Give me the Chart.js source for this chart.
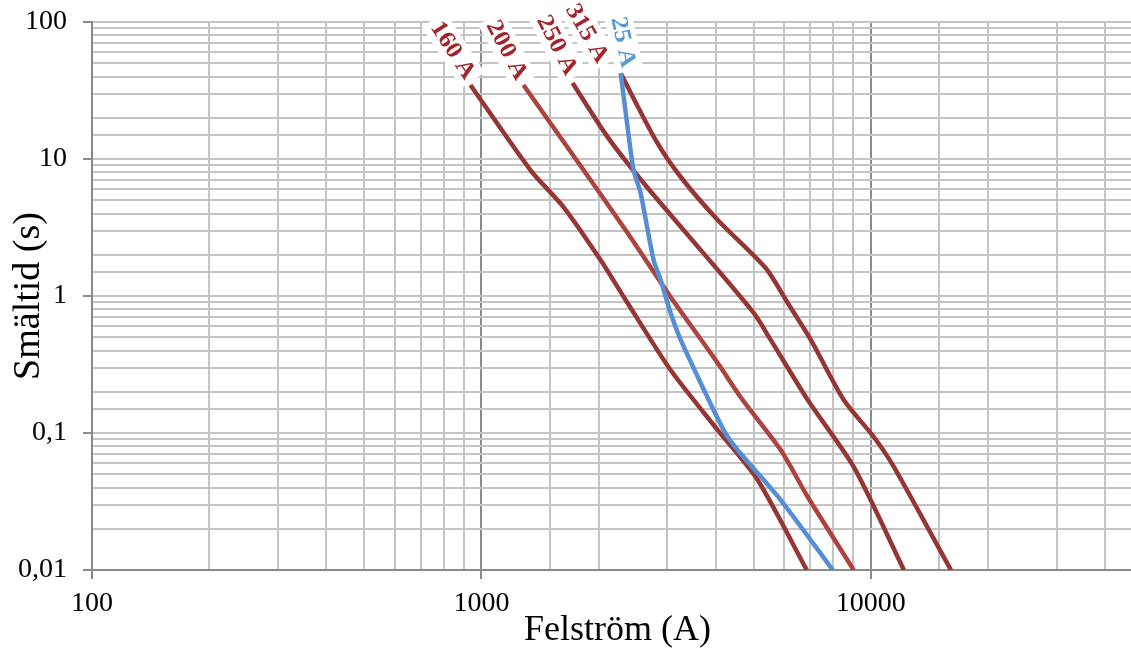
<!DOCTYPE html>
<html>
<head>
<meta charset="utf-8">
<script src="https://cdn.jsdelivr.net/npm/chart.js@4/dist/chart.umd.min.js"></script>
<style>
  html, body { margin: 0; padding: 0; background: #fff; overflow: hidden; }
</style>
</head>
<body>
<canvas id="chart" width="1143" height="650"></canvas>
<script>
// fuse melting curves
const seriesNames = ['160 A', '200 A', '250 A', '315 A', '25 A'];

const current160 = [937, 1336, 1625, 2023, 2373, 3061, 4044, 5123, 6847];
const time160 = [34.7, 8.31, 4.46, 1.83, 0.889, 0.288, 0.105, 0.0454, 0.01];

const current200 = [1282, 1829, 2345, 3061, 4044, 4688, 5870, 6889, 9040];
const time200 = [34.7, 8.31, 3.03, 0.984, 0.324, 0.174, 0.0751, 0.0341, 0.01];

const current250 = [1714, 2108, 2609, 3656, 5003, 5533, 6889, 9040, 12160];
const time250 = [35.9, 14.5, 6.68, 2.17, 0.752, 0.478, 0.174, 0.0565, 0.01];

const current315 = [2277, 2800, 3250, 4044, 5370, 6118, 7014, 8525, 10180, 11460, 16060];
const time315 = [42.4, 13.8, 7.39, 3.59, 1.6, 0.889, 0.478, 0.174, 0.0935, 0.0565, 0.01];

const current25 = [2277, 2373, 2459, 2563, 2768, 2885, 3061, 3250, 3656, 4189, 4550, 5870, 7985];
const time25 = [43.2, 17.1, 8.31, 5.65, 1.83, 1.31, 0.752, 0.478, 0.232, 0.105, 0.0751, 0.0324, 0.01];

const xTickLabels = ['100', '1000', '10000'];
const yTickLabels = ['0,01', '0,1', '1', '10', '100'];

const toPoints = (xs, ys) => xs.map((x, i) => ({ x: x, y: ys[i] }));

const lineColors = ['#943634', '#AD433F', '#943634', '#943634', '#558ED5'];
const labelColors = ['#A3242B', '#A3242B', '#A3242B', '#A3242B', '#5B9BD5'];
// label placement relative to first point of each curve
const labelPlacement = [
  { dx: -17, dy: -35, angle: 57 },
  { dx: -16, dy: -35, angle: 62 },
  { dx: -15, dy: -38, angle: 63 },
  { dx: -33, dy: -40, angle: 60 },
  { dx: 3, dy: -30, angle: 78 }
];

const isDecade = v => Math.abs(Math.log10(v) - Math.round(Math.log10(v))) < 1e-6;

const curveLabels = {
  id: 'curveLabels',
  afterDatasetsDraw(chart) {
    const ctx = chart.ctx;
    chart.data.datasets.forEach((ds, i) => {
      const pt = chart.getDatasetMeta(i).data[0];
      const p = labelPlacement[i];
      ctx.save();
      ctx.translate(pt.x + p.dx, pt.y + p.dy);
      ctx.rotate(p.angle * Math.PI / 180);
      ctx.scale(1.08, 1);
      ctx.font = 'bold 24px "Liberation Serif"';
      const w = ctx.measureText(ds.label).width;
      ctx.fillStyle = '#ffffff';
      ctx.fillRect(-w / 2 - 4, -14, w + 8, 28);
      ctx.fillStyle = labelColors[i];
      ctx.textAlign = 'center';
      ctx.textBaseline = 'middle';
      ctx.fillText(ds.label, 0, 1);
      ctx.restore();
    });
  }
};

const allX = [current160, current200, current250, current315, current25];
const allY = [time160, time200, time250, time315, time25];

const tickFont = { family: '"Liberation Serif"', size: 28 };

new Chart(document.getElementById('chart'), {
  type: 'line',
  data: {
    datasets: seriesNames.map((name, i) => ({
      label: name,
      data: toPoints(allX[i], allY[i]),
      borderColor: lineColors[i],
      borderWidth: 4.5,
      pointRadius: 0,
      fill: false,
      tension: 0.25,
      order: i === 4 ? -1 : 0
    }))
  },
  options: {
    responsive: false,
    animation: false,
    layout: { padding: { top: 22, right: 0, bottom: 0, left: 0 } },
    plugins: {
      legend: { display: false },
      tooltip: { enabled: false }
    },
    scales: {
      x: {
        type: 'logarithmic',
        min: 100,
        max: 50000,
        afterFit: s => { s.height = 80; s.paddingLeft = 0; s.paddingRight = 0; },
        border: { color: '#8a8a8a', width: 2 },
        grid: {
          color: c => (c.tick && isDecade(c.tick.value)) ? '#8c8c8c' : '#c4c4c4',
          lineWidth: 2,
          tickLength: 9,
          tickWidth: 2,
          tickColor: c => (c.tick && isDecade(c.tick.value)) ? '#8a8a8a' : 'rgba(0,0,0,0)'
        },
        ticks: {
          autoSkip: false,
          maxRotation: 0,
          padding: 8,
          color: '#000',
          font: tickFont,
          callback: v => {
            const s = String(Math.round(v));
            return xTickLabels.includes(s) ? s : '';
          }
        },
        title: {
          display: true,
          text: 'Felström (A)',
          color: '#000',
          font: { family: '"Liberation Serif"', size: 36, lineHeight: 1 },
          padding: { top: 0, bottom: 1 }
        }
      },
      y: {
        type: 'logarithmic',
        min: 0.01,
        max: 100,
        afterFit: s => { s.width = 92; s.paddingTop = 0; s.paddingBottom = 0; },
        border: { color: '#8a8a8a', width: 2 },
        grid: {
          color: '#c4c4c4',
          lineWidth: 2,
          tickLength: 9,
          tickWidth: 2,
          tickColor: c => (c.tick && isDecade(c.tick.value)) ? '#8a8a8a' : 'rgba(0,0,0,0)'
        },
        ticks: {
          autoSkip: false,
          padding: 16,
          color: '#000',
          font: tickFont,
          callback: v => {
            if (!isDecade(v)) return '';
            const s = String(v).replace('.', ',');
            return yTickLabels.includes(s) ? s : '';
          }
        },
        title: {
          display: true,
          text: 'Smältid (s)',
          color: '#000',
          font: { family: '"Liberation Serif"', size: 38, lineHeight: 1 },
          padding: { top: 10, bottom: 0 }
        }
      }
    }
  },
  plugins: [curveLabels]
});
</script>
</body>
</html>
